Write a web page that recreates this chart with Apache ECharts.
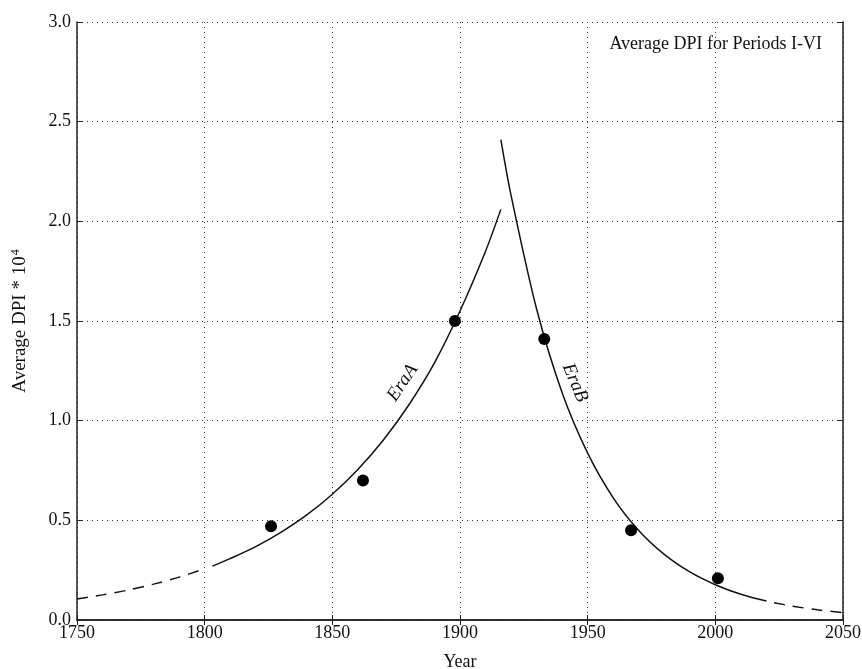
<!DOCTYPE html>
<html>
<head>
<meta charset="utf-8" />
<title>Average DPI for Periods I-VI</title>
<script src="https://cdn.jsdelivr.net/npm/echarts@6/dist/echarts.min.js"></script>
</head>
<body style="margin:0;background:#fff">
<div id="main" style="width:862px;height:669px;"></div>
<script type="text/javascript">
// measured period averages
var periodYears = [1826, 1862, 1898, 1933, 1967, 2001];
var periodDpi = [0.47, 0.70, 1.50, 1.41, 0.45, 0.21];

// Era A curve
var eraAExtYears = [1750, 1760, 1770, 1780, 1790, 1800];
var eraAExtDpi = [0.105, 0.126, 0.150, 0.180, 0.215, 0.257];
var eraAYears = [1803, 1810, 1820, 1830, 1840, 1850, 1860, 1870, 1880, 1890, 1900, 1910, 1916];
var eraADpi = [0.270, 0.308, 0.368, 0.441, 0.527, 0.631, 0.755, 0.903, 1.08, 1.29, 1.55, 1.85, 2.06];

// Era B curve
var eraBYears = [1916, 1920, 1930, 1940, 1950, 1960, 1970, 1980, 1990, 2000, 2010, 2020];
var eraBDpi = [2.41, 2.13, 1.56, 1.14, 0.837, 0.613, 0.449, 0.329, 0.241, 0.177, 0.129, 0.095];
var eraBExtYears = [2023, 2030, 2040, 2050];
var eraBExtDpi = [0.087, 0.070, 0.051, 0.037];

var xTicks = [1750, 1800, 1850, 1900, 1950, 2000, 2050];
var yTicks = [0.0, 0.5, 1.0, 1.5, 2.0, 2.5, 3.0];

function pairs(xs, ys) {
	var out = [];
	for (var i = 0; i < xs.length; i++) out.push([xs[i], ys[i]]);
	return out;
}

var font = 'Liberation Serif';
var myChart = echarts.init(document.getElementById('main'));

var gridLine = { show: true, lineStyle: { color: '#333', type: [1, 4], width: 1 } };
var tickIn = { show: true, inside: true, length: 5, lineStyle: { color: '#222', width: 1 } };
var axisLn = { show: true, lineStyle: { color: '#222', width: 1.5 } };

function curve(data, dashed) {
	return {
		type: 'line',
		data: data,
		smooth: 0.3,
		showSymbol: false,
		silent: true,
		lineStyle: { color: '#111', width: 1.5, type: dashed ? [11, 8] : 'solid' },
		z: 3
	};
}

myChart.setOption({
	animation: false,
	backgroundColor: '#fff',
	textStyle: { fontFamily: font },
	grid: { left: 77, right: 19, top: 22, bottom: 49, outerBoundsMode: 'none', containLabel: false },
	title: {
		text: 'Average DPI for Periods I-VI',
		right: 35,
		top: 30,
		textStyle: { fontFamily: font, fontSize: 18, fontWeight: 'normal', color: '#111' }
	},
	xAxis: [{
		type: 'value',
		min: xTicks[0], max: xTicks[xTicks.length - 1], interval: 50,
		name: 'Year', nameLocation: 'middle', nameGap: 33,
		nameTextStyle: { fontFamily: font, fontSize: 18, color: '#111' },
		axisLine: axisLn, axisTick: tickIn, splitLine: gridLine,
		axisLabel: {
			color: '#111', fontSize: 18, fontFamily: font, margin: 4, showMinLabel: true, showMaxLabel: true,
			formatter: function (v) { return String(v); }
		}
	}, {
		type: 'value', position: 'top',
		min: xTicks[0], max: xTicks[xTicks.length - 1], interval: 50,
		axisLine: axisLn, axisTick: tickIn, splitLine: { show: false }, axisLabel: { show: false }
	}],
	yAxis: [{
		type: 'value',
		min: yTicks[0], max: yTicks[yTicks.length - 1], interval: 0.5,
		name: '{a|Average DPI * 10}{s|4}', nameLocation: 'middle', nameGap: 46,
		nameTextStyle: {
			color: '#111',
			rich: {
				a: { fontFamily: font, fontSize: 19, color: '#111' },
				s: { fontFamily: font, fontSize: 12, color: '#111', padding: [0, 0, 9, 1] }
			}
		},
		axisLine: axisLn, axisTick: tickIn, splitLine: gridLine,
		axisLabel: {
			color: '#111', fontSize: 18, fontFamily: font, margin: 6,
			formatter: function (v) { return v.toFixed(1); }
		}
	}, {
		type: 'value', position: 'right',
		min: yTicks[0], max: yTicks[yTicks.length - 1], interval: 0.5,
		axisLine: axisLn, axisTick: tickIn, splitLine: { show: false }, axisLabel: { show: false }
	}],
	series: [
		curve(pairs(eraAExtYears, eraAExtDpi), true),
		curve(pairs(eraAYears, eraADpi), false),
		curve(pairs(eraBYears, eraBDpi), false),
		curve(pairs(eraBExtYears, eraBExtDpi), true),
		{
			type: 'scatter',
			data: pairs(periodYears, periodDpi),
			symbolSize: 12,
			itemStyle: { color: '#000', opacity: 1 },
			z: 4
		}
	]
});

// curve labels placed through the axes
var posA = myChart.convertToPixel({ gridIndex: 0 }, [1877.5, 1.19]);
var posB = myChart.convertToPixel({ gridIndex: 0 }, [1945, 1.19]);
var labelStyle = { fontFamily: font, fontSize: 19, fontStyle: 'italic', fill: '#111', align: 'center', verticalAlign: 'middle' };
myChart.setOption({
	graphic: [
		{ type: 'text', x: posA[0], y: posA[1], rotation: 56 * Math.PI / 180, style: Object.assign({ text: 'EraA' }, labelStyle) },
		{ type: 'text', x: posB[0], y: posB[1], rotation: -67 * Math.PI / 180, style: Object.assign({ text: 'EraB' }, labelStyle) }
	]
});
</script>
</body>
</html>
